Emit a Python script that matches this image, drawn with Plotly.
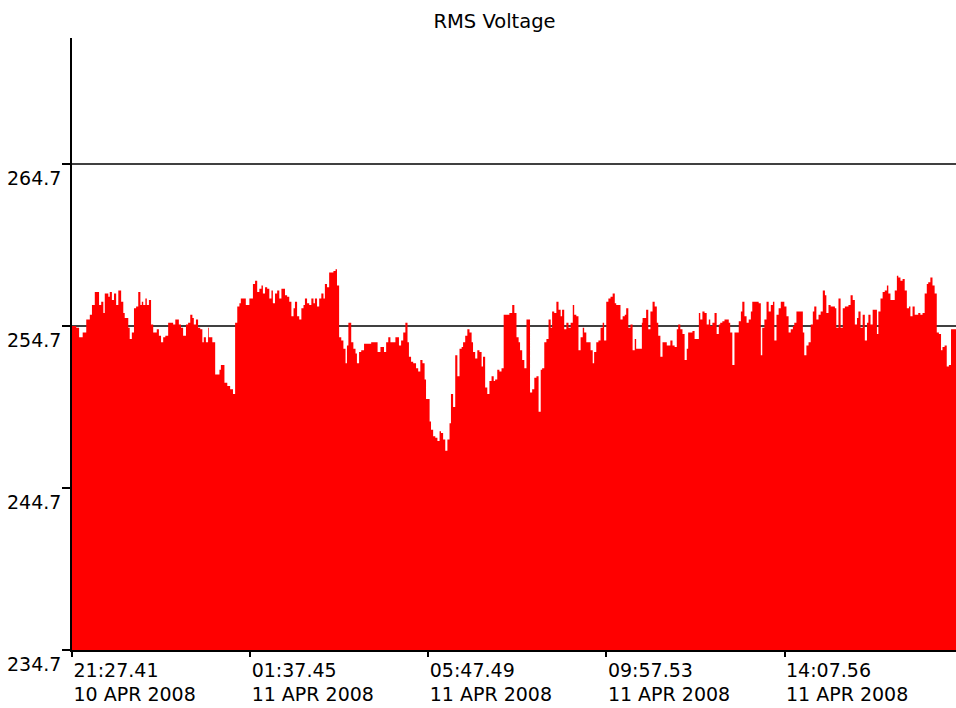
import plotly.graph_objects as go

# Elapsed minutes since 21:27:41 on 10 APR 2008 and RMS voltage readings (V)
minutes = [
    0, 6, 10, 15, 20, 25, 28, 32, 38, 41,
    44, 46, 51, 53, 56, 59, 62, 65, 69, 72,
    74, 79, 81, 84, 87, 90, 93, 96, 98, 100,
    103, 105, 108, 111, 114, 117, 119, 122, 125, 128,
    131, 135, 138, 142, 145, 150, 153, 156, 160, 163,
    166, 169, 171, 174, 177, 180, 183, 185, 188, 191,
    192, 197, 201, 207, 209, 214, 218, 222, 226, 229,
    232, 235, 237, 244, 249, 254, 257, 260, 263, 266,
    268, 271, 274, 277, 280, 282, 285, 288, 291, 294,
    296, 299, 302, 305, 308, 311, 313, 316, 319, 322,
    325, 327, 330, 333, 336, 339, 341, 344, 347, 350,
    353, 355, 358, 361, 364, 367, 370, 372, 375, 378,
    381, 384, 386, 388, 392, 395, 398, 400, 403, 406,
    410, 420, 424, 429, 433, 436, 438, 441, 444, 447,
    454, 459, 462, 465, 468, 471, 473, 476, 479, 483,
    486, 489, 492, 495, 497, 502, 504, 507, 510, 513,
    516, 518, 521, 524, 527, 530, 532, 535, 538, 541,
    544, 547, 549, 552, 555, 558, 561, 563, 566, 569,
    572, 575, 577, 580, 583, 586, 589, 592, 594, 597,
    600, 603, 606, 608, 614, 618, 621, 624, 627, 629,
    632, 635, 638, 643, 646, 649, 652, 655, 658, 660,
    663, 666, 669, 672, 674, 677, 680, 683, 686, 688,
    691, 694, 697, 700, 703, 705, 708, 711, 714, 717,
    719, 722, 725, 728, 731, 733, 736, 739, 742, 745,
    747, 750, 753, 756, 759, 762, 764, 767, 770, 773,
    776, 778, 781, 784, 787, 790, 792, 797, 800, 801,
    806, 809, 812, 815, 818, 821, 823, 826, 829, 835,
    840, 843, 846, 849, 851, 854, 857, 860, 863, 865,
    868, 871, 874, 880, 882, 885, 888, 891, 894, 896,
    899, 902, 905, 908, 910, 913, 916, 922, 924, 927,
    930, 933, 936, 939, 941, 944, 947, 950, 953, 955,
    964, 967, 969, 972, 975, 978, 981, 984, 986, 989,
    992, 995, 1000, 1003, 1006, 1009, 1012, 1014, 1017, 1026,
    1028, 1031, 1034, 1037, 1040, 1042, 1045, 1048, 1051, 1054,
    1057, 1059, 1062, 1065, 1071, 1073, 1076, 1079, 1082, 1085,
    1090, 1093, 1096, 1099, 1102, 1104, 1107, 1110, 1113, 1116,
    1118, 1121, 1124, 1127, 1130, 1132, 1135, 1138, 1141, 1144,
    1146, 1149, 1155, 1158, 1160, 1163, 1166, 1169, 1172, 1175,
    1177, 1180, 1183, 1186, 1188, 1191, 1194, 1197, 1200, 1202,
    1205, 1208, 1211, 1214, 1217, 1220, 1222, 1225, 1228, 1231,
    1234, 1237,
]

volts = [
    254.7, 254.6, 254.0, 254.3, 255.1, 255.4, 256.0, 256.8, 256.0, 256.2,
    255.5, 256.7, 256.5, 256.8, 256.3, 256.7, 256.0, 256.9, 256.2, 255.5,
    255.2, 254.6, 253.9, 254.3, 255.8, 255.9, 256.8, 256.0, 256.2, 256.0,
    256.4, 256.0, 256.3, 254.8, 254.3, 254.3, 254.5, 254.1, 253.7, 254.0,
    254.1, 254.9, 254.9, 254.8, 255.1, 254.8, 254.6, 254.1, 254.8, 254.9,
    255.4, 255.2, 254.8, 255.1, 254.6, 254.5, 253.7, 254.0, 253.7, 254.6,
    254.0, 253.7, 251.7, 252.0, 252.3, 251.2, 251.0, 250.8, 250.5, 254.9,
    255.9, 256.1, 256.4, 256.0, 256.4, 257.3, 257.5, 256.8, 257.0, 257.2,
    256.7, 257.1, 257.0, 256.4, 256.9, 256.1, 256.7, 256.9, 256.4, 257.0,
    257.0, 256.6, 256.5, 256.2, 255.3, 255.8, 256.2, 255.3, 255.1, 255.8,
    256.0, 256.4, 256.1, 256.0, 256.4, 256.1, 256.4, 255.9, 256.4, 256.7,
    256.4, 257.3, 257.1, 258.0, 258.0, 258.1, 258.2, 257.2, 254.0, 253.8,
    253.3, 252.4, 253.5, 254.9, 253.7, 253.3, 253.0, 252.4, 253.1, 253.2,
    253.6, 253.7, 253.7, 253.1, 253.4, 253.4, 253.1, 253.7, 254.0, 253.7,
    254.0, 253.5, 253.8, 254.3, 254.9, 253.7, 252.8, 252.5, 252.4, 252.1,
    251.9, 252.6, 252.4, 251.4, 250.2, 248.8, 248.3, 247.9, 247.8, 247.6,
    248.2, 248.1, 247.7, 247.0, 247.7, 248.7, 250.5, 249.7, 252.9, 251.6,
    253.3, 253.4, 253.7, 254.1, 254.5, 254.3, 253.7, 253.1, 252.7, 253.2,
    253.1, 252.2, 252.8, 250.9, 250.5, 251.3, 251.6, 251.3, 251.4, 252.0,
    251.9, 252.1, 255.4, 255.4, 255.5, 256.0, 255.5, 254.0, 253.7, 253.2,
    252.6, 252.1, 255.1, 250.6, 250.8, 251.5, 251.6, 249.4, 252.0, 252.1,
    253.7, 253.9, 255.1, 254.6, 255.6, 255.5, 256.2, 255.7, 255.3, 255.7,
    254.5, 254.9, 254.6, 254.9, 256.0, 255.4, 255.3, 253.2, 254.0, 254.6,
    254.3, 253.7, 253.7, 253.2, 252.4, 253.1, 253.7, 253.8, 254.6, 254.9,
    253.8, 256.2, 256.4, 256.5, 256.7, 256.1, 256.0, 256.0, 255.1, 255.3,
    255.4, 255.8, 254.6, 254.8, 253.2, 253.9, 253.3, 253.3, 254.9, 255.2,
    255.7, 254.5, 255.6, 256.2, 255.9, 254.9, 254.1, 252.8, 253.7, 253.5,
    253.8, 253.5, 253.4, 254.5, 254.8, 254.5, 254.2, 252.6, 253.3, 254.3,
    254.3, 254.4, 253.9, 255.5, 255.1, 255.6, 255.5, 254.8, 255.1, 254.7,
    254.9, 255.5, 254.2, 254.8, 254.9, 255.0, 255.1, 254.9, 254.3, 252.3,
    254.3, 254.3, 255.0, 255.6, 256.2, 255.3, 254.9, 255.1, 255.6, 256.2,
    256.1, 252.9, 254.6, 255.1, 256.2, 255.6, 256.0, 256.2, 253.8, 255.4,
    255.8, 256.2, 255.9, 255.3, 254.3, 254.5, 254.7, 254.9, 255.6, 254.3,
    252.9, 253.5, 253.7, 254.8, 255.6, 255.9, 255.1, 255.4, 255.6, 256.9,
    256.6, 255.5, 256.0, 255.9, 255.8, 254.6, 256.4, 254.6, 255.8, 255.9,
    256.0, 256.6, 256.3, 254.8, 255.2, 255.6, 254.6, 255.4, 253.8, 254.9,
    255.4, 254.8, 255.7, 255.7, 254.2, 255.6, 256.4, 256.8, 256.9, 257.2,
    256.7, 256.3, 256.9, 257.8, 257.7, 257.5, 257.6, 256.9, 255.8, 255.9,
    255.3, 255.9, 255.4, 255.4, 255.5, 255.4, 255.5, 256.7, 257.3, 257.4,
    257.7, 257.2, 256.7, 254.3, 254.2, 253.2, 253.4, 253.5, 252.2, 252.3,
    254.5, 254.5,
]

end_minute = 1241  # end of the recorded window

tick_minutes = [0, 250.07, 500.13, 750.2, 1000.27]
tick_times = ["21:27.41", "01:37.45", "05:47.49", "09:57.53", "14:07.56"]
tick_dates = ["10 APR 2008", "11 APR 2008", "11 APR 2008", "11 APR 2008", "11 APR 2008"]

y_ticks = [234.7, 244.7, 254.7, 264.7]
y_range = [234.7, 272.48]
limit_lines = [254.7, 264.7]

if len(minutes) != len(volts):
    raise ValueError(f"length mismatch {len(minutes)} vs {len(volts)}")

FONT = "DejaVu Sans, Liberation Sans, Arial, sans-serif"

fig = go.Figure()
fig.add_trace(go.Scatter(
    x=minutes + [end_minute],
    y=volts + [volts[-1]],
    mode="lines",
    line=dict(shape="hv", color="#FF0000", width=0),
    fill="tozeroy",
    fillcolor="#FF0000",
    hoverinfo="skip",
    showlegend=False,
))

for v in limit_lines:
    fig.add_shape(type="line", xref="paper", x0=0, x1=1, yref="y", y0=v, y1=v,
                  line=dict(color="black", width=1.6), layer="below")

fig.update_layout(
    width=956, height=708,
    margin=dict(l=72, r=0, t=38, b=58),
    paper_bgcolor="white", plot_bgcolor="white",
    font=dict(family=FONT, size=19, color="black"),
    title=dict(text="RMS Voltage", xref="container", x=494.5 / 956, xanchor="center",
               yref="container", y=1 - 21 / 708, yanchor="middle",
               font=dict(family=FONT, size=19.5, color="black")),
    xaxis=dict(
        range=[0, end_minute],
        tickmode="array", tickvals=tick_minutes,
        ticktext=[f"{t}<br>{d}" for t, d in zip(tick_times, tick_dates)],
        ticks="outside", ticklen=5, tickcolor="black", tickwidth=1.5,
        ticklabelposition="outside right", ticklabelstandoff=2,
        showline=True, linecolor="black", linewidth=1.5,
        showgrid=False, zeroline=False,
        tickfont=dict(family=FONT, size=19, color="black"),
    ),
    yaxis=dict(
        range=y_range,
        tickmode="array", tickvals=y_ticks,
        ticktext=[f"{v:.1f}" for v in y_ticks],
        ticks="outside", ticklen=8, tickcolor="black", tickwidth=1.5,
        ticklabelposition="outside bottom", ticklabelstandoff=5,
        showline=True, linecolor="black", linewidth=1.5,
        showgrid=False, zeroline=False,
        tickfont=dict(family=FONT, size=19, color="black"),
    ),
)

fig.write_html(
    "out.html",
    config={"displayModeBar": False},
    post_script="document.body.style.margin='0';document.body.style.overflow='hidden';",
)
